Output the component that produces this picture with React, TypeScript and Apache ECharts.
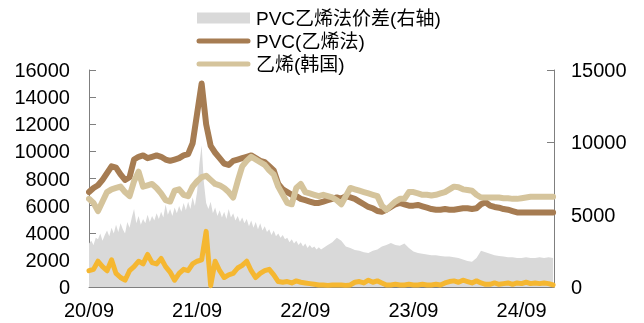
import React, { useEffect, useRef } from "react";
import * as echarts from "echarts";

// x positions: months since 2020-09
const months: number[] = Array.from({ length: 104 }, (_, i) => i * 0.5);
const grayMonths: number[] = Array.from({ length: 105 }, (_, i) => i * 0.25).concat(
  Array.from({ length: 51 }, (_, i) => 26.5 + i * 0.5)
);
const xTickLabels = ["20/09", "21/09", "22/09", "23/09", "24/09"];

const seriesNames = ["PVC乙烯法价差(右轴)", "PVC(乙烯法)", "乙烯(韩国)", "PVC乙烯法利润"];

const pvcEthylene = [
  7000, 7300, 7500, 7900, 8400, 8900, 8800, 8300, 7900, 8100,
  9400, 9600, 9700, 9500, 9600, 9700, 9600, 9400, 9300, 9400,
  9500, 9700, 9800, 10600, 12800, 15000, 12000, 10400, 9900, 9500,
  9100, 9000, 9300, 9400, 9500, 9600, 9700, 9500, 9300, 9200,
  8900, 8600, 7600, 7200, 7000, 6800, 6700, 6500, 6400, 6300,
  6200, 6200, 6300, 6400, 6500, 6600, 6500, 6700, 6600, 6500,
  6300, 6100, 5900, 5800, 5600, 5550, 5700, 5900, 6100, 6200,
  6100, 6000, 6000, 6050, 5950, 5850, 5750, 5700, 5700, 5750,
  5700, 5700, 5750, 5800, 5800, 5750, 5800, 6100, 6250, 6000,
  5900, 5850, 5750, 5700, 5600, 5500, 5500, 5500, 5500, 5500,
  5500, 5500, 5500, 5500,
];

const ethyleneKorea = [
  6500, 6200, 5600, 6300, 7000, 7200, 7300, 7400, 7000, 6700,
  7800, 8500, 7400, 7500, 7600, 7300, 6900, 6400, 6300, 7100,
  7200, 6800, 6700, 7400, 7800, 8100, 8200, 7900, 7600, 7500,
  7300, 7000, 6600, 7800, 8900, 9300, 9600, 9400, 9200, 9000,
  8600, 8300, 7400, 6800, 6200, 6100, 7300, 7600, 7000, 6900,
  6800, 6700, 6800, 6700, 6600, 6400, 6100, 6700, 7300, 7200,
  7100, 7000, 6900, 6800, 6700, 6000, 5700, 6000, 6300, 6500,
  6500, 7000, 7000, 6900, 6800, 6800, 6750, 6800, 6900, 7000,
  7200, 7400, 7350, 7200, 7150, 7100, 6800, 6600, 6600, 6600,
  6600, 6600, 6550, 6550, 6500, 6500, 6550, 6600, 6650, 6650,
  6650, 6650, 6650, 6650,
];

// right axis; quarter-month steps to 22/11, then half-month steps
const spreadRight = [
  3000, 3200, 2900, 3400,
  3300, 3700, 3200, 3600,
  3900, 3500, 4100, 3700,
  4300, 3800, 4400, 4000,
  3700, 4500, 4100, 4800,
  5400, 4400, 4900, 4300,
  4700, 4400, 5000, 4500,
  4900, 4600, 5100, 4700,
  5200, 4800, 5700, 5000,
  5400, 4900, 5500, 5100,
  5600, 5200, 5800, 5300,
  5900, 5400, 6200, 5600,
  6600, 8500, 9800, 7200,
  5800, 5400, 5900, 5100,
  5500, 4900, 5300, 4800,
  5200, 4700, 5400, 4800,
  5100, 4600, 4900, 4500,
  4800, 4400, 4700, 4200,
  4600, 4100, 4500, 4000,
  4400, 3900, 4200, 3800,
  4000, 3600, 3900, 3500,
  3700, 3400, 3600, 3300,
  3400, 3100, 3300, 3000,
  3200, 2900, 3100, 2800,
  3000, 2700, 2900, 2700,
  2800, 2600, 2750, 2600,
  2700,
  2900, 3100, 3400, 3200, 2800, 2700, 2550, 2500, 2400, 2350,
  2500, 2600, 2800, 2900, 3050, 2900, 2850, 3000, 2700, 2450,
  2350, 2300, 2250, 2200, 2200, 2150, 2100, 2100, 2050, 2000,
  1900, 1800, 1750, 2000, 2500, 2400, 2300, 2200, 2150, 2100,
  2050, 2050, 2000, 2000, 2050, 2000, 2000, 2050, 2000, 2050,
  2000,
];

const profitLeft = [
  1200, 1300, 1900, 1500, 1200, 2000, 1000, 700, 500, 1200,
  1500, 1900, 1700, 2400, 1800, 1700, 2100, 1500, 1100, 500,
  1000, 1300, 1200, 1700, 1900, 2000, 4100, 100, 1900, 1200,
  700, 900, 1000, 1400, 1600, 1900, 1200, 700, 1000, 1200,
  1300, 900, 400, 350, 400, 300, 450, 350, 300, 250,
  200, 150, 150, 120, 150, 150, 150, 120, 150, 350,
  400, 300, 500, 350, 450, 300, 150, 150, 200, 150,
  150, 200, 150, 150, 200, 150, 150, 200, 150, 300,
  400, 450, 350, 500, 400, 300, 450, 300, 200, 200,
  300, 200, 250, 300, 200, 300, 250, 350, 250, 300,
  250, 300, 250, 150,
];

const leftTicks = { min: 0, max: 16000, interval: 2000 };
const rightTicks = { min: 0, max: 15000, interval: 5000 };

const COLORS = {
  gray: "#d9d9d9",
  brown: "#a67c52",
  tan: "#d5c49c",
  yellow: "#f5b731",
};

const FONT = "'Liberation Sans', Arial, 'Noto Sans CJK SC', sans-serif";

const pair = (xs: number[], vals: number[]) => vals.map((v, i) => [xs[i], v]);

export default function App() {
  const ref = useRef<HTMLDivElement>(null);
  useEffect(() => {
    if (!ref.current) return;
    const chart = echarts.init(ref.current, undefined, { renderer: "svg" });
    const axisColor = "#7f7f7f";
    const labelStyle = { color: "#000", fontSize: 20, fontFamily: FONT };
    const legendX = 197;
    const legendTextX = 256;
    const legendRows = [18, 41, 64];
    chart.setOption({
      animation: false,
      grid: { left: 89, right: 90, top: 70, bottom: 36, containLabel: false },
      xAxis: {
        type: "value",
        min: 0,
        max: 51.6,
        interval: 12,
        axisLine: { show: true, lineStyle: { color: axisColor, width: 1 } },
        axisTick: { show: true, inside: true, length: 7, lineStyle: { color: axisColor } },
        splitLine: { show: false },
        axisLabel: {
          ...labelStyle,
          margin: 13,
          showMaxLabel: false,
          formatter: (v: number) => {
            const k = Math.round(v / 12);
            return Math.abs(v - k * 12) < 1e-6 ? xTickLabels[k] ?? "" : "";
          },
        },
      },
      yAxis: [
        {
          type: "value",
          ...leftTicks,
          axisLine: { show: true, lineStyle: { color: axisColor } },
          axisTick: { show: true, inside: true, length: 7, lineStyle: { color: axisColor } },
          splitLine: { show: false },
          axisLabel: { ...labelStyle, margin: 19, formatter: (v: number) => String(v) },
        },
        {
          type: "value",
          ...rightTicks,
          position: "right",
          axisLine: { show: true, lineStyle: { color: axisColor } },
          axisTick: { show: true, inside: true, length: 7, lineStyle: { color: axisColor } },
          splitLine: { show: false },
          axisLabel: { ...labelStyle, margin: 17, formatter: (v: number) => String(v) },
        },
      ],
      series: [
        {
          name: seriesNames[0],
          type: "line",
          yAxisIndex: 1,
          data: pair(grayMonths, spreadRight),
          showSymbol: false,
          lineStyle: { width: 0, color: COLORS.gray },
          itemStyle: { color: COLORS.gray },
          areaStyle: { color: COLORS.gray, opacity: 1 },
          z: 1,
        },
        {
          name: seriesNames[1],
          type: "line",
          data: pair(months, pvcEthylene),
          showSymbol: false,
          lineStyle: { width: 6, color: COLORS.brown, cap: "round", join: "round" },
          itemStyle: { color: COLORS.brown },
          z: 2,
        },
        {
          name: seriesNames[2],
          type: "line",
          data: pair(months, ethyleneKorea),
          showSymbol: false,
          lineStyle: { width: 6, color: COLORS.tan, cap: "round", join: "round" },
          itemStyle: { color: COLORS.tan },
          z: 3,
        },
        {
          name: seriesNames[3],
          type: "line",
          data: pair(months, profitLeft),
          showSymbol: false,
          lineStyle: { width: 5, color: COLORS.yellow, cap: "round", join: "round" },
          itemStyle: { color: COLORS.yellow },
          z: 4,
        },
      ],
      graphic: [
        {
          type: "rect",
          shape: { x: legendX, y: legendRows[0] - 5.5, width: 53, height: 11 },
          style: { fill: COLORS.gray },
        },
        {
          type: "line",
          shape: { x1: legendX + 2, y1: legendRows[1], x2: legendX + 51, y2: legendRows[1] },
          style: { stroke: COLORS.brown, lineWidth: 5, lineCap: "round" },
        },
        {
          type: "line",
          shape: { x1: legendX + 2, y1: legendRows[2], x2: legendX + 51, y2: legendRows[2] },
          style: { stroke: COLORS.tan, lineWidth: 5, lineCap: "round" },
        },
        ...[0, 1, 2].map((i) => ({
          type: "text",
          x: legendTextX,
          y: legendRows[i],
          style: {
            text: seriesNames[i],
            fill: "#000",
            fontSize: 19,
            fontFamily: FONT,
            verticalAlign: "middle",
            align: "left",
          },
        })),
      ],
    });
    return () => chart.dispose();
  }, []);
  return (
    <div
      ref={ref}
      style={{ position: "fixed", left: 0, top: 0, width: 644, height: 323 }}
    />
  );
}
